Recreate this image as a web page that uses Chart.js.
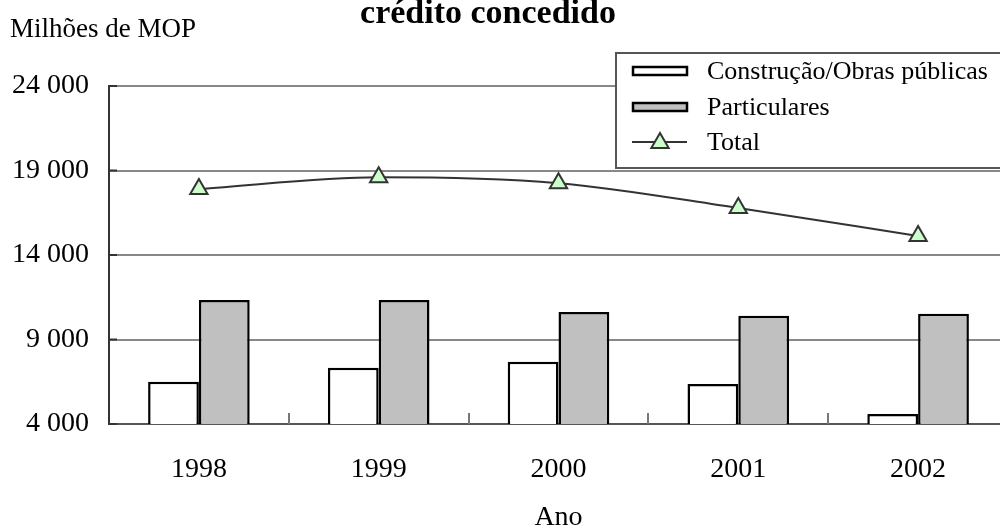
<!DOCTYPE html>
<html lang="pt">
<head>
<meta charset="utf-8">
<title>crédito concedido</title>
<script src="https://cdn.jsdelivr.net/npm/chart.js@4.4.1/dist/chart.umd.min.js"></script>
<style>
    html, body { margin: 0; padding: 0; background: #fff; overflow: hidden; }
    canvas { display: block; }
</style>
</head>
<body>
<canvas id="creditChart" width="1020" height="532"></canvas>
<script>
// ===== Data =====
const years = ["1998", "1999", "2000", "2001", "2002"];
const construcao = [6500, 7330, 7690, 6370, 4590];
const particulares = [11340, 11340, 10630, 10410, 10530];
const total = [17900, 18600, 18250, 16780, 15130];
const yTicks = [4000, 9000, 14000, 19000, 24000];

const seriesNames = ["Construção/Obras públicas", "Particulares", "Total"];

const FONT = "'Liberation Serif', 'Times New Roman', serif";

function formatThousands(v) {
    return String(v).replace(/\B(?=(\d{3})+(?!\d))/g, " ");
}

// ===============================
// EXTRA DRAWING (ticks, legend, titles)
// ===============================
const decorPlugin = {
    id: "decor",
    afterDraw(chart) {
        const ctx = chart.ctx;
        const x = chart.scales.x;
        const y = chart.scales.y;
        const area = chart.chartArea;

        ctx.save();

        // tick marks between categories, pointing up
        ctx.strokeStyle = "#777";
        ctx.lineWidth = 2;
        for (let i = 0; i < years.length - 1; i++) {
            const px = Math.round((x.getPixelForTick(i) + x.getPixelForTick(i + 1)) / 2);
            ctx.beginPath();
            ctx.moveTo(px, area.bottom);
            ctx.lineTo(px, area.bottom - 11);
            ctx.stroke();
        }

        // small marks on the value axis
        ctx.strokeStyle = "#333";
        yTicks.forEach(v => {
            const py = y.getPixelForValue(v);
            ctx.beginPath();
            ctx.moveTo(area.left, py);
            ctx.lineTo(area.left + 8, py);
            ctx.stroke();
        });

        // legend box
        const lx = 616, ly = 53;
        ctx.fillStyle = "#fff";
        ctx.fillRect(lx, ly, 420, 115);
        ctx.strokeStyle = "#555";
        ctx.lineWidth = 2;
        ctx.strokeRect(lx, ly, 420, 115);

        const rows = [71, 107, 142];
        const ds = chart.data.datasets;
        ctx.font = "26px " + FONT;
        ctx.textBaseline = "middle";
        ctx.textAlign = "left";

        for (let i = 0; i < ds.length; i++) {
            const ry = rows[i];
            if (ds[i].type === "line") {
                ctx.strokeStyle = ds[i].borderColor;
                ctx.lineWidth = 2;
                ctx.beginPath();
                ctx.moveTo(632, ry);
                ctx.lineTo(687, ry);
                ctx.stroke();
                ctx.fillStyle = ds[i].pointBackgroundColor;
                ctx.strokeStyle = ds[i].pointBorderColor;
                const r = ds[i].pointRadius;
                ctx.beginPath();
                ctx.moveTo(660, ry + 1 - r);
                ctx.lineTo(660 + r * 0.866, ry + 1 + r * 0.5);
                ctx.lineTo(660 - r * 0.866, ry + 1 + r * 0.5);
                ctx.closePath();
                ctx.fill();
                ctx.stroke();
            } else {
                ctx.fillStyle = ds[i].backgroundColor;
                ctx.strokeStyle = "#000";
                ctx.lineWidth = 2.5;
                ctx.fillRect(633, ry - 4, 54, 8);
                ctx.strokeRect(633, ry - 4, 54, 8);
            }
            ctx.fillStyle = "#000";
            ctx.fillText(ds[i].label, 707, ry + 1);
        }

        // unit label
        ctx.font = "27px " + FONT;
        ctx.textBaseline = "alphabetic";
        ctx.fillText("Milhões de MOP", 10, 37);

        // title (only its second line is visible)
        ctx.font = "bold 34px " + FONT;
        ctx.textAlign = "center";
        ctx.fillText("crédito concedido", 488, 23);

        ctx.restore();
    }
};

// ===============================
// CHART
// ===============================
const ctx = document.getElementById("creditChart").getContext("2d");

new Chart(ctx, {
    type: "bar",
    data: {
        labels: years,
        datasets: [
            {
                label: seriesNames[0],
                data: construcao,
                backgroundColor: "#ffffff",
                borderColor: "#000000",
                borderWidth: 2.5,
                categoryPercentage: 0.565,
                barPercentage: 1.0,
                order: 1
            },
            {
                label: seriesNames[1],
                data: particulares,
                backgroundColor: "#c0c0c0",
                borderColor: "#000000",
                borderWidth: 2.5,
                categoryPercentage: 0.565,
                barPercentage: 1.0,
                order: 1
            },
            {
                type: "line",
                label: seriesNames[2],
                data: total,
                borderColor: "#333333",
                borderWidth: 2,
                cubicInterpolationMode: "monotone",
                pointStyle: "triangle",
                pointRadius: 10,
                pointBackgroundColor: "#ccffcc",
                pointBorderColor: "#333333",
                pointBorderWidth: 2,
                fill: false,
                order: 0
            }
        ]
    },
    options: {
        responsive: false,
        animation: false,
        layout: { padding: { top: 86, right: 5, left: 0, bottom: 0 } },
        plugins: {
            legend: { display: false },
            tooltip: { enabled: false }
        },
        scales: {
            x: {
                grid: { display: false, drawTicks: false },
                border: { display: true, color: "#555", width: 2 },
                ticks: {
                    padding: 29,
                    color: "#000",
                    font: { family: FONT, size: 28 }
                },
                title: {
                    display: true,
                    text: "Ano",
                    color: "#000",
                    padding: 0,
                    font: { family: FONT, size: 28, lineHeight: 1 }
                },
                afterFit: s => { s.height = 108; }
            },
            y: {
                min: 4000,
                max: 24000,
                afterBuildTicks: s => { s.ticks = yTicks.map(v => ({ value: v })); },
                grid: { color: "#888", lineWidth: 2, drawTicks: false },
                border: { display: true, color: "#333", width: 2 },
                ticks: {
                    padding: 20,
                    color: "#000",
                    font: { family: FONT, size: 28 },
                    callback: v => formatThousands(v)
                },
                afterFit: s => { s.width = 109; }
            }
        }
    },
    plugins: [decorPlugin]
});
</script>
</body>
</html>
